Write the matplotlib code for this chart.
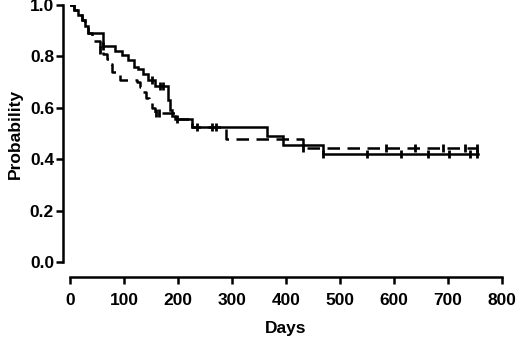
import matplotlib
matplotlib.use("Agg")
import matplotlib.pyplot as plt

# Kaplan-Meier style step data (day of step, survival after step)
solid_t = [0, 8, 15, 22, 28, 34, 61, 83, 96, 107, 119, 126, 135, 144, 157, 181, 185, 189, 194, 226, 364, 395, 469, 755]
solid_s = [1.0, 0.98, 0.96, 0.94, 0.92, 0.89, 0.84, 0.82, 0.805, 0.785, 0.76, 0.75, 0.73, 0.71, 0.685, 0.63, 0.59, 0.57, 0.555, 0.525, 0.49, 0.455, 0.42, 0.42]

dashed_t = [0, 8, 15, 22, 28, 34, 41, 56, 61, 69, 74, 78, 93, 124, 130, 135, 141, 146, 152, 157, 194, 226, 289, 432, 755]
dashed_s = [1.0, 0.98, 0.96, 0.94, 0.92, 0.89, 0.86, 0.825, 0.81, 0.79, 0.77, 0.74, 0.71, 0.70, 0.68, 0.66, 0.64, 0.62, 0.60, 0.58, 0.555, 0.525, 0.478, 0.443, 0.443]

# censored observations
solid_cens_t = [61, 152, 167, 172, 235, 263, 270, 469, 550, 613, 663, 702, 741, 754]
dashed_cens_t = [56, 160, 165, 198, 432, 585, 639, 690, 731, 754]

x_ticks = [0, 100, 200, 300, 400, 500, 600, 700, 800]
y_ticks = [0.0, 0.2, 0.4, 0.6, 0.8, 1.0]
y_tick_labels = ["0.0", "0.2", "0.4", "0.6", "0.8", "1.0"]


def surv_at(ts, ss, t):
    v = ss[0]
    for ti, si in zip(ts, ss):
        if ti <= t:
            v = si
        else:
            break
    return v


plt.rcParams['font.family'] = ['Liberation Sans', 'DejaVu Sans']
plt.rcParams['font.weight'] = 'bold'

fig = plt.figure(figsize=(5.2, 3.45), dpi=100)
ax = fig.add_axes([70/520, (345-262)/345, 432/520, 257/345])

ax.step(solid_t, solid_s, where='post', color='black', lw=1.8, solid_joinstyle='miter')
ax.step(dashed_t, dashed_s, where='post', color='black', lw=1.8, linestyle=(0, (5, 3)))

ax.plot(solid_cens_t, [surv_at(solid_t, solid_s, t) for t in solid_cens_t],
        linestyle='none', marker='|', markersize=6, mew=2, color='black')
ax.plot(dashed_cens_t, [surv_at(dashed_t, dashed_s, t) for t in dashed_cens_t],
        linestyle='none', marker='|', markersize=6, mew=2, color='black')

ax.set_xlim(0, 800)
ax.set_ylim(0, 1.0)
ax.set_xticks(x_ticks)
ax.set_xticklabels([str(v) for v in x_ticks])
ax.set_yticks(y_ticks)
ax.set_yticklabels(y_tick_labels)

for s in ['top', 'right']:
    ax.spines[s].set_visible(False)
ax.spines['left'].set_position(('outward', 5))
ax.spines['bottom'].set_position(('outward', 11))
for s in ['left', 'bottom']:
    ax.spines[s].set_linewidth(1.8)
ax.tick_params(direction='out', length=5, width=1.8, labelsize=12.5)
ax.tick_params(axis='y', pad=1.5)
ax.tick_params(axis='x', pad=6)
for lab in ax.get_xticklabels() + ax.get_yticklabels():
    lab.set_fontweight('bold')

ax.set_xlabel('Days', fontsize=12.5, fontweight='bold', labelpad=10)
ax.set_ylabel('Probability', fontsize=12.5, fontweight='bold', labelpad=5)

fig.savefig('out.png', dpi=100)
